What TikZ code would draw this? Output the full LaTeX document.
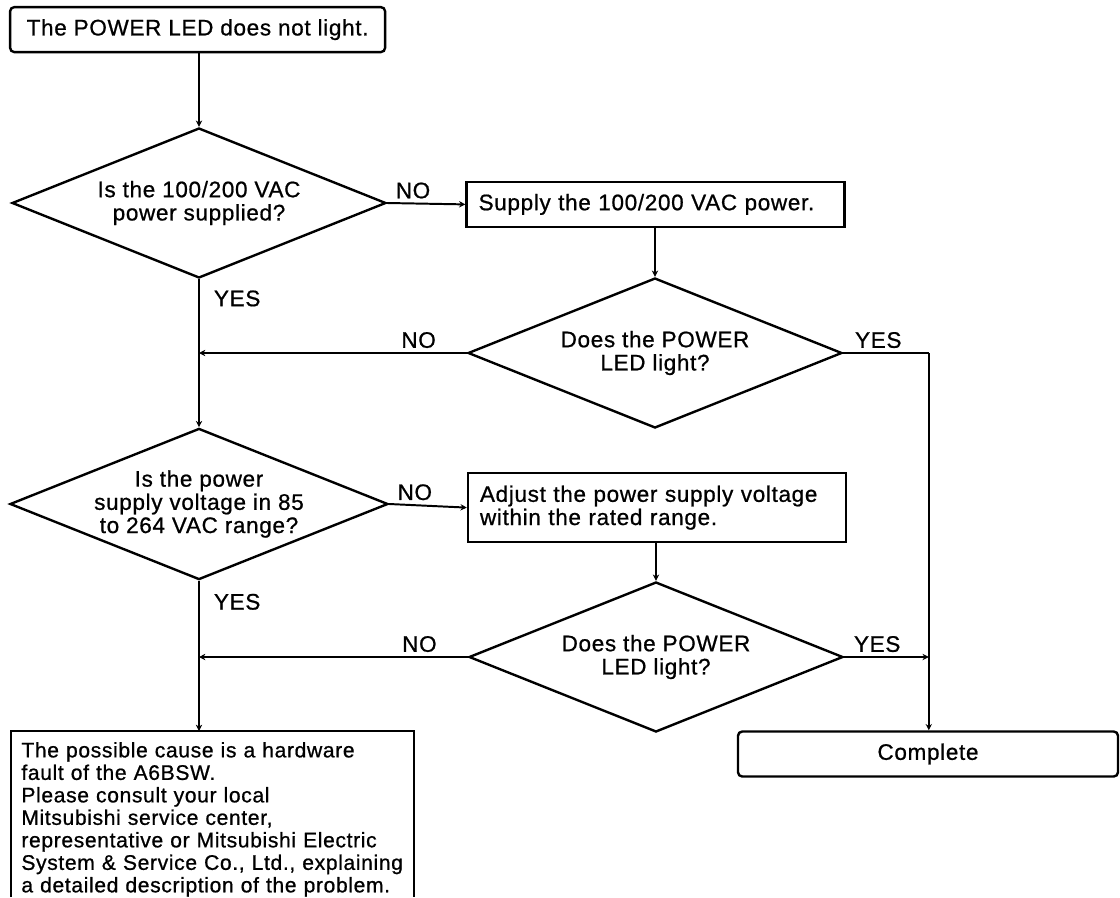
\documentclass[tikz,border=0pt]{standalone}
\usepackage{fontspec}
\setmainfont{Liberation Sans}[LetterSpace=3, FakeBold=0.8]
\usetikzlibrary{positioning,arrows.meta,calc,shapes.geometric}

\begin{document}
\begin{tikzpicture}[node distance=0.42cm, every node/.style={font=\fontsize{16pt}{16.5pt}\selectfont},
    question/.style={draw, diamond, aspect=2.5, inner sep=0pt, minimum width=9.35cm, minimum height=3.75cm, align=center, line width=1.7pt},
    action/.style={draw, rectangle, line width=1.7pt, text width=8.85cm, align=left, inner xsep=0.3cm, minimum height=1.125cm},
    terminal/.style={draw, rounded corners=3pt, line width=1.7pt, minimum height=1.125cm},
    flow/.style={-{Stealth[length=4.5pt,width=4.5pt]}, line width=1.4pt},
    tag/.style={inner sep=0.1cm}]
  \useasboundingbox (0,0) rectangle (28,-22.425);
  \coordinate (floor) at (0,-22.425);
  \node[terminal, minimum width=9.375cm] (start) at (4.94,-0.74) {The POWER LED does not light.};
  \node[question] (q1) at (4.975,-5.075) {Is the 100/200 VAC\\power supplied?};
  \node[action] (supply) at (16.39,-5.11) {Supply the 100/200 VAC power.};
  \node[question] (q2) at (16.375,-8.825) {Does the POWER\\LED light?};
  \node[question] (q3) at (4.975,-12.6) {Is the power\\supply voltage in 85\\to 264 VAC range?};
  \node[action, minimum height=1.725cm] (adjust) at (16.425,-12.69) {Adjust the power supply voltage\\within the rated range.};
  \node[question] (q4) at (16.4,-16.425) {Does the POWER\\LED light?};
  \node[terminal, minimum width=9.5cm] (done) at (23.2,-18.85) {Complete};
  \node[anchor=north, text width=9.55cm, inner xsep=0.26cm, inner ysep=0.27cm, align=left, font=\fontsize{15pt}{16pt}\selectfont] (fault) at (5.31,-18.275)
    {The possible cause is a hardware\\fault of the A6BSW.\\Please consult your local\\Mitsubishi service center,\\representative or Mitsubishi Electric\\System \& Service Co., Ltd., explaining\\a detailed description of the problem.};
  \draw[line width=1.7pt] (fault.north west |- floor) -- (fault.north west) -- (fault.north east) -- (fault.north east |- floor);

  \draw[flow] (start.south -| q1.north) -- (q1.north);
  \draw[flow] (q1.east) -- node[tag, above, pos=0.33]{NO} (supply.west);
  \draw[flow] (q1.south) -- node[tag, right=0.25cm, pos=0.13]{YES} (q3.north);
  \draw[flow] (supply.south -| q2.north) -- (q2.north);
  \draw[flow] (q2.west) -- node[tag, above, pos=0.18]{NO} (q2.west -| q1.south);
  \draw[line width=1.4pt] (q2.east) -- node[tag, above, pos=0.41]{YES} ++(2.14,0) coordinate (bend);
  \draw[flow] (bend) -- (bend |- done.north);
  \draw[flow] (q3.east) -- node[tag, above, pos=0.33]{NO} (adjust.west);
  \draw[flow] (q3.south) -- node[tag, right=0.25cm, pos=0.14]{YES} (fault.north -| q3.south);
  \draw[flow] (adjust.south -| q4.north) -- (q4.north);
  \draw[flow] (q4.west) -- node[tag, above, pos=0.18]{NO} (q4.west -| q3.south);
  \draw[flow] (q4.east) -- node[tag, above, pos=0.39]{YES} (q4.east -| bend);
\end{tikzpicture}
\end{document}
